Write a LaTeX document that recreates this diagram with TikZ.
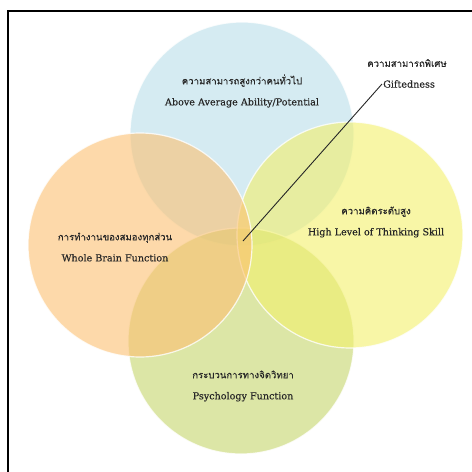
\documentclass[tikz,border=0pt]{standalone}
\usepackage{fontspec}
\setmainfont[FakeBold=0.3]{DejaVu Serif}
\newfontfamily\thaifont[Script=Thai,FakeBold=0.3]{Loma}
\definecolor{skyfill}{HTML}{B9DEE9}
\definecolor{peachfill}{HTML}{FCC071}
\definecolor{lemonfill}{HTML}{F3F06B}
\definecolor{limefill}{HTML}{C5D56B}
\definecolor{inkgray}{HTML}{262626}
\tikzset{
  setcircle/.style={fill=#1, fill opacity=.6, draw=white, draw opacity=.8, line width=1.2pt},
  settext/.style={align=center, text=inkgray, font=\fontsize{9.6}{21}\selectfont, inner sep=1pt}
}
\begin{document}
\begin{tikzpicture}[x=1pt,y=-1pt]

          \useasboundingbox (0,0) rectangle (472,472);
          \draw[line width=2pt] (8,472) -- (8,10.5) -- (472,10.5);

          \draw[setcircle=skyfill] (242,134) circle[radius=112pt];
          \draw[setcircle=limefill] (241,341) circle[radius=113pt];
          \draw[setcircle=lemonfill] (350,235) circle[radius=113pt];
          \draw[setcircle=peachfill] (140,245) circle[radius=112pt];

          \node[settext] (above) at (242,91) {{\thaifont ความสามารถสูงกว่าคนทั่วไป}\\Above Average Ability/Potential};
          \node[settext] (brain) at (115,247) {{\thaifont การทำงานของสมองทุกส่วน}\\Whole Brain Function};
          \node[settext] (thinking) at (376,222) {{\thaifont ความคิดระดับสูง}\\High Level of Thinking Skill};
          \node[settext] (psych) at (243,386) {{\thaifont กระบวนการทางจิตวิทยา}\\Psychology Function};
          \node[settext] (giftth) at (407,63) {\thaifont ความสามารถพิเศษ};
          \node[settext, anchor=west] (gifted) at (382,84) {Giftedness};

          \coordinate (core) at (243,241);
          \draw[inkgray, line width=.9pt] (core) -- (gifted.west);

        \end{tikzpicture}
\end{document}
